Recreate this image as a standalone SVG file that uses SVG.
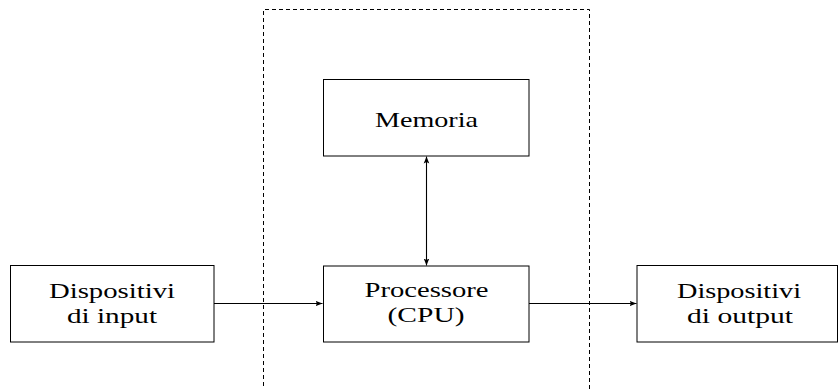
<svg xmlns="http://www.w3.org/2000/svg" width="838" height="389" viewBox="0 0 838 389">
<defs>
<marker id="ah" viewBox="0 0 10 10" refX="10" refY="5" markerWidth="7" markerHeight="7" markerUnits="userSpaceOnUse" orient="auto-start-reverse">
<path d="M0,1 L10,5 L0,9 L2,5 Z" fill="#000"/>
</marker>
<style>
.box{fill:#fff;stroke:#000;stroke-width:1}
.t{font-family:"Liberation Serif","DejaVu Serif",serif;font-size:22px;fill:#000;text-anchor:middle}
.c{stroke:#000;stroke-width:1.1;fill:none}
.dash{fill:none;stroke:#000;stroke-width:1;stroke-dasharray:4 3}
</style>
</defs>
<rect width="838" height="389" fill="#fff"/>
<g id="frame">
<path class="dash" d="M263.5,400 V9.5 H589.5 V400"/>
</g>
<g id="connectors">
<line class="c" x1="214" y1="303.5" x2="322.5" y2="303.5" marker-end="url(#ah)"/>
<line class="c" x1="529" y1="303.5" x2="636.5" y2="303.5" marker-end="url(#ah)"/>
<line class="c" x1="426.5" y1="156.5" x2="426.5" y2="265.5" marker-start="url(#ah)" marker-end="url(#ah)"/>
</g>
<g id="input">
<rect class="box" x="10.5" y="265.5" width="203.5" height="76.5"/>
<text class="t" x="112" y="298" textLength="126" lengthAdjust="spacingAndGlyphs">Dispositivi</text>
<text class="t" x="112" y="323" textLength="90" lengthAdjust="spacingAndGlyphs">di input</text>
</g>
<g id="memoria">
<rect class="box" x="323.5" y="79.5" width="205.5" height="76.5"/>
<text class="t" x="426.5" y="127" textLength="103" lengthAdjust="spacingAndGlyphs">Memoria</text>
</g>
<g id="cpu">
<rect class="box" x="323.5" y="266" width="205.5" height="76"/>
<text class="t" x="426.5" y="297" textLength="124" lengthAdjust="spacingAndGlyphs">Processore</text>
<text class="t" x="426" y="322" textLength="77" lengthAdjust="spacingAndGlyphs">(CPU)</text>
</g>
<g id="output">
<rect class="box" x="637" y="265.5" width="200.5" height="76.5"/>
<text class="t" x="739" y="298" textLength="124" lengthAdjust="spacingAndGlyphs">Dispositivi</text>
<text class="t" x="740" y="323" textLength="106" lengthAdjust="spacingAndGlyphs">di output</text>
</g>
</svg>
